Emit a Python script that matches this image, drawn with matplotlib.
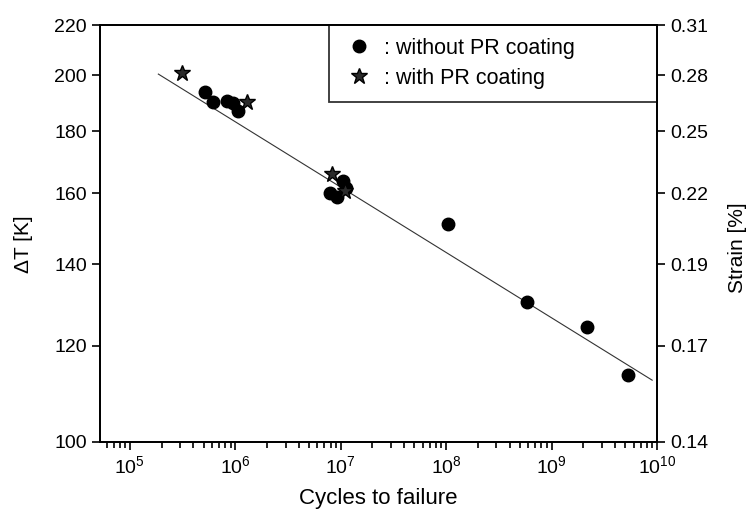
import numpy as np
import matplotlib.pyplot as plt
from matplotlib.ticker import FixedLocator, NullFormatter, LogLocator

plt.rcParams['font.family'] = ['Liberation Sans', 'DejaVu Sans']
plt.rcParams['mathtext.fontset'] = 'custom'
plt.rcParams['mathtext.rm'] = 'Liberation Sans'
plt.rcParams['mathtext.it'] = 'Liberation Sans'

# data
cyc_without = [5.15e5, 6.15e5, 8.3e5, 9.5e5, 1.06e6, 7.9e6, 9.2e6, 1.05e7, 1.13e7,
               1.05e8, 5.85e8, 2.17e9, 5.3e9]
dT_without = [193.7, 190.3, 190.5, 190.0, 187.0, 160.0, 158.9, 163.8, 161.6,
              151.0, 130.4, 124.4, 113.5]
cyc_with = [3.15e5, 1.28e6, 8.2e6, 1.1e7]
dT_with = [200.9, 190.3, 166.0, 160.8]
fit_cyc = [1.86e5, 9.0e9]
fit_dT = [200.5, 112.4]

dT_ticks = [100, 120, 140, 160, 180, 200, 220]
strain_labels = ['0.14', '0.17', '0.19', '0.22', '0.25', '0.28', '0.31']

fig = plt.figure(figsize=(7.51, 5.22), dpi=100)
ax = fig.add_axes([100 / 751, 1 - 442 / 522, 557 / 751, 417 / 522])

ax.plot(fit_cyc, fit_dT, '-', color='#333333', lw=0.8, zorder=1)
ax.plot(cyc_without, dT_without, 'o', color='k', ms=9, ls='none',
        label=': without PR coating', zorder=2)
ax.plot(cyc_with, dT_with, '*', mfc='#2a2a2a', mec='k', ms=12, ls='none',
        label=': with PR coating', zorder=3)

ax.set_xscale('log')
ax.set_yscale('log')
ax.set_xlim(5.2e4, 1e10)
ax.set_ylim(100, 220)

ax.xaxis.set_major_locator(LogLocator(base=10, numticks=20))
ax.xaxis.set_minor_locator(LogLocator(base=10, subs=np.arange(2, 10), numticks=100))
ax.xaxis.set_minor_formatter(NullFormatter())
ax.yaxis.set_major_locator(FixedLocator(dT_ticks))
ax.yaxis.set_minor_locator(FixedLocator([]))
ax.set_yticklabels([str(t) for t in dT_ticks])

ax.tick_params(axis='both', which='major', labelsize=14, direction='out', length=6, width=1.2)
ax.tick_params(axis='x', which='minor', direction='out', length=4, width=1.2)
for s in ax.spines.values():
    s.set_linewidth(1.3)

ax.set_xlabel('Cycles to failure', fontsize=16, labelpad=8)
ax.set_ylabel('ΔT [K]', fontsize=15)
ax.yaxis.set_label_coords(-0.12, 0.475)

ax2 = ax.twinx()
ax2.set_yscale('log')
ax2.set_ylim(100, 220)
ax2.yaxis.set_major_locator(FixedLocator(dT_ticks))
ax2.yaxis.set_minor_locator(FixedLocator([]))
ax2.set_yticklabels(strain_labels)
ax2.tick_params(axis='y', labelsize=14, direction='out', length=6, width=1.2)
ax2.set_ylabel('Strain [%]', fontsize=15)
ax2.yaxis.set_label_coords(1.128, 0.465)
for s in ax2.spines.values():
    s.set_linewidth(1.3)

leg = ax.legend(loc='upper left', bbox_to_anchor=(0.411, 0, 0.589, 1), mode='expand',
                borderaxespad=0, fontsize=15.5, frameon=True, fancybox=False,
                handletextpad=0.35, borderpad=0.6, labelspacing=0.42, handlelength=1.6)
leg.get_frame().set_edgecolor('k')
leg.get_frame().set_linewidth(1.3)

fig.savefig('out.png', dpi=100)
